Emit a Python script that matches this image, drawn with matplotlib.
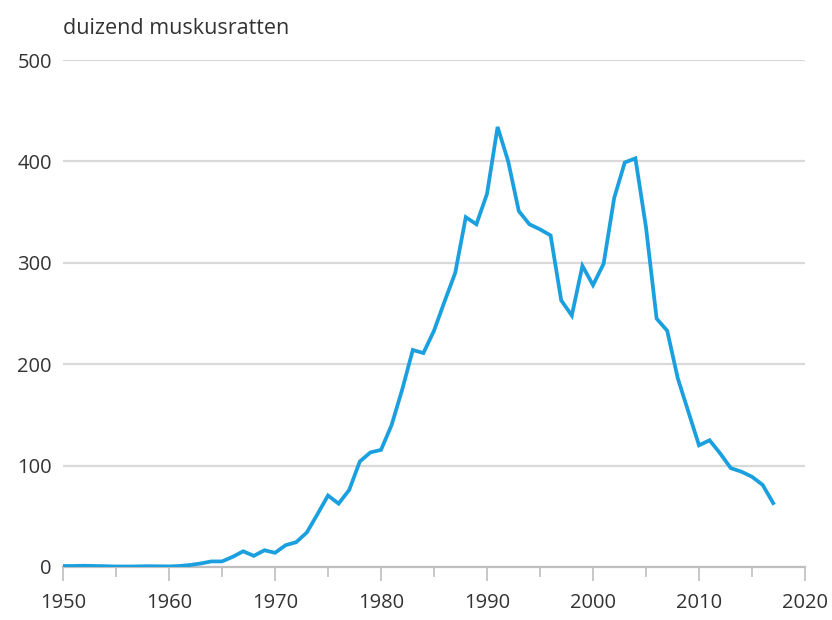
import matplotlib.pyplot as plt
from matplotlib.ticker import MultipleLocator

# Muskusratten gevangen, duizendtallen per jaar
years = list(range(1950, 2018))
values = [
    1.0, 1.0, 1.2, 1.0, 0.8, 0.5, 0.5, 0.6, 0.8, 0.7,      # 1950-1959
    0.6, 1.0, 2.0, 3.5, 5.5, 5.5, 10, 15.5, 11, 16.5,        # 1960-1969
    14, 21.5, 24.5, 34, 52, 70.5, 62.5, 76, 104, 113,        # 1970-1979
    115.5, 140, 175, 214, 211, 233, 262, 290, 345, 338,      # 1980-1989
    368, 434, 400, 351, 338, 333, 327, 263, 248, 297,        # 1990-1999
    278, 299, 364, 399, 403, 335, 245, 233, 186, 153,        # 2000-2009
    120, 125, 112, 97.5, 94, 89, 81, 63,                     # 2010-2017
]
y_ticks = [0, 100, 200, 300, 400, 500]
x_ticks = [1950, 1960, 1970, 1980, 1990, 2000, 2010, 2020]

plt.rcParams['font.family'] = ['Open Sans', 'DejaVu Sans']
text_color = '#333333'
grid_color = '#d9d9d9'

fig = plt.figure(figsize=(8.32, 6.2), dpi=100)
ax = fig.add_axes([63 / 832, 53 / 620, (805 - 63) / 832, (567 - 60) / 620])

ax.plot(years, values, color='#1a9fdf', linewidth=2.7, solid_joinstyle='miter', zorder=3)

ax.set_xlim(1950, 2020)
ax.set_ylim(0, 500)
ax.set_xticks(x_ticks)
ax.xaxis.set_minor_locator(MultipleLocator(5))
ax.set_yticks(y_ticks)
ax.yaxis.grid(True, color=grid_color, linewidth=1.6)
ax.set_axisbelow(True)

for side in ['top', 'right', 'left']:
    ax.spines[side].set_visible(False)
ax.spines['bottom'].set_color('#bfbfbf')
ax.spines['bottom'].set_linewidth(1.6)

ax.tick_params(axis='x', which='major', length=10, width=1.2, color='#bfbfbf',
               labelsize=14.5, labelcolor=text_color, pad=9)
ax.tick_params(axis='x', which='minor', length=7, width=1.2, color='#bfbfbf')
ax.tick_params(axis='y', length=0, labelsize=14.5, labelcolor=text_color, pad=8)

fig.text(63 / 832, 1 - 28 / 620, 'duizend muskusratten', fontsize=15.5,
         color=text_color, va='center', ha='left')

fig.savefig('out.png', dpi=100)
